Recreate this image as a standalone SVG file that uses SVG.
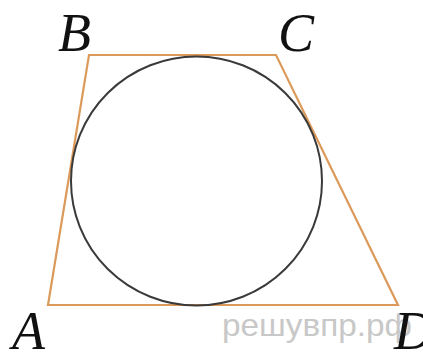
<svg xmlns="http://www.w3.org/2000/svg" width="423" height="353" viewBox="0 0 423 353">
<style>
.side{stroke:#dc9a5a;stroke-width:2.2;fill:none;stroke-linejoin:miter}
.circ{stroke:#3a3a3a;stroke-width:2;fill:none}
.lbl{font-family:"Liberation Serif",serif;font-style:italic;font-size:54px;fill:#111}
.wm{font-family:"Liberation Sans",sans-serif;font-size:32px;fill:#c8c8c8}
</style>
<rect width="423" height="353" fill="#fff"/>
<g id="trapezoid"><polygon class="side" points="89,55 276,55 398,305 48,305"/></g>
<g id="circle"><ellipse class="circ" cx="196.5" cy="181" rx="125.5" ry="124.5"/></g>
<g id="labels">
<text class="lbl" x="58" y="51">B</text>
<text class="lbl" x="278" y="51">C</text>
<text class="lbl" x="12" y="349">A</text>
<text class="wm" x="222" y="336" textLength="190" lengthAdjust="spacingAndGlyphs">решувпр.рф</text>
<text class="lbl" x="394" y="349">D</text>
</g>
</svg>
